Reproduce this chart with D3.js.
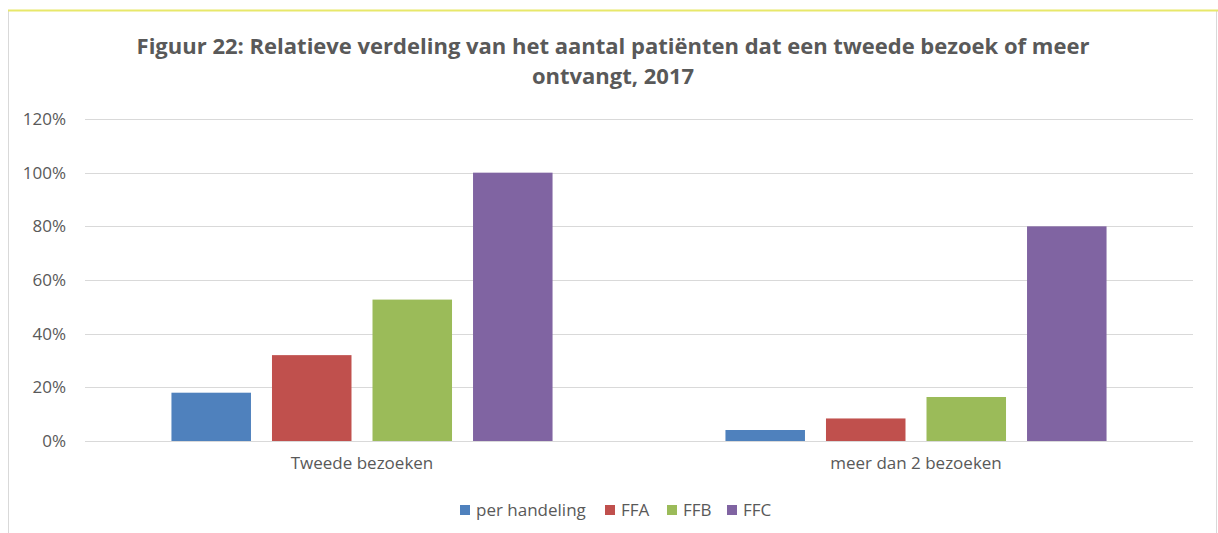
<!DOCTYPE html>
<html>
<head>
<meta charset="utf-8">
<script src="https://cdn.jsdelivr.net/npm/d3@7"></script>
<style>
  body { margin: 0; background: #fff; }
  text { font-family: "Open Sans", sans-serif; fill: #595959; }
</style>
</head>
<body>
<div id="chart"></div>
<script>
// data
var categories = ["Tweede bezoeken", "meer dan 2 bezoeken"];
var seriesNames = ["per handeling", "FFA", "FFB", "FFC"];
var seriesColors = ["#4f81bd", "#c0504d", "#9bbb59", "#8064a2"];
var perHandeling = [0.18, 0.041];
var ffa = [0.32, 0.084];
var ffb = [0.527, 0.164];
var ffc = [1.00, 0.80];
var yTicks = [0, 0.2, 0.4, 0.6, 0.8, 1.0, 1.2];
var titleLines = ["Figuur 22: Relatieve verdeling van het aantal patiënten dat een tweede bezoek of meer", "ontvangt, 2017"];

var seriesValues = [perHandeling, ffa, ffb, ffc];

var width = 1218, height = 533;
var margin = {left: 85, right: 25, top: 119, bottom: 92};

var svg = d3.select("#chart").append("svg")
    .attr("width", width)
    .attr("height", height);

// frame
svg.append("line").attr("x1", 8.5).attr("x2", 8.5).attr("y1", 11).attr("y2", height)
    .attr("stroke", "#d9d9d9");
svg.append("line").attr("x1", 1216.5).attr("x2", 1216.5).attr("y1", 11).attr("y2", height)
    .attr("stroke", "#d9d9d9");
svg.append("line").attr("x1", 8).attr("x2", width).attr("y1", 10.5).attr("y2", 10.5)
    .attr("stroke", "#e8e86a").attr("stroke-width", 2);

// title
svg.append("text")
    .attr("text-anchor", "middle")
    .style("font-weight", "bold")
    .style("font-size", "22px")
    .selectAll("tspan")
    .data(titleLines)
    .enter().append("tspan")
      .attr("x", 613)
      .attr("y", function(d, i) { return 54 + i * 30; })
      .text(function(d) { return d; });

var y = d3.scaleLinear()
    .domain([0, 1.2])
    .range([height - margin.bottom, margin.top]);

var x0 = d3.scaleBand()
    .domain(categories)
    .range([margin.left, width - margin.right])
    .padding(0);

var x1 = d3.scaleBand()
    .domain(seriesNames)
    .range([0, x0.bandwidth()])
    .paddingInner(0.209)
    .paddingOuter(0.86);

// gridlines
svg.append("g")
  .selectAll("line")
  .data(yTicks)
  .enter().append("line")
    .attr("x1", margin.left)
    .attr("x2", width - margin.right)
    .attr("y1", function(d) { return Math.round(y(d)) + 0.5; })
    .attr("y2", function(d) { return Math.round(y(d)) + 0.5; })
    .attr("stroke", "#d9d9d9")
    .attr("stroke-width", 1);

// y axis labels
var yAxis = d3.axisLeft(y)
    .tickValues(yTicks)
    .tickFormat(d3.format(".0%"))
    .tickSize(0)
    .tickPadding(19);

svg.append("g")
    .attr("transform", "translate(" + margin.left + ",0)")
    .call(yAxis)
    .call(function(g) { g.select(".domain").remove(); })
    .selectAll("text")
      .style("font-size", "17px")
      .style("font-family", "'Open Sans', sans-serif")
      .attr("fill", "#595959");

// bars
var groups = svg.append("g")
  .selectAll("g")
  .data(categories)
  .enter().append("g")
    .attr("transform", function(d) { return "translate(" + x0(d) + ",0)"; });

groups.selectAll("rect")
  .data(function(d, ci) {
    return seriesNames.map(function(s, si) {
      return {series: s, value: seriesValues[si][ci], color: seriesColors[si]};
    });
  })
  .enter().append("rect")
    .attr("x", function(d) { return x1(d.series); })
    .attr("y", function(d) { return y(d.value); })
    .attr("width", x1.bandwidth())
    .attr("height", function(d) { return y(0) - y(d.value); })
    .attr("fill", function(d) { return d.color; });

// category axis
var xAxis = d3.axisBottom(x0).tickSize(0).tickPadding(16);
svg.append("g")
    .attr("transform", "translate(0," + y(0) + ")")
    .call(xAxis)
    .call(function(g) { g.select(".domain").remove(); })
    .selectAll("text")
      .style("font-size", "17px")
      .style("font-family", "'Open Sans', sans-serif")
      .attr("fill", "#595959");

// legend
var legendX = [460, 605, 667, 727];
var legend = svg.append("g")
  .selectAll("g")
  .data(seriesNames)
  .enter().append("g")
    .attr("transform", function(d, i) { return "translate(" + legendX[i] + ",505)"; });

legend.append("rect")
    .attr("width", 10)
    .attr("height", 10)
    .attr("fill", function(d, i) { return seriesColors[i]; });

legend.append("text")
    .attr("x", 16)
    .attr("y", 11)
    .style("font-size", "17px")
    .text(function(d) { return d; });
</script>
</body>
</html>
